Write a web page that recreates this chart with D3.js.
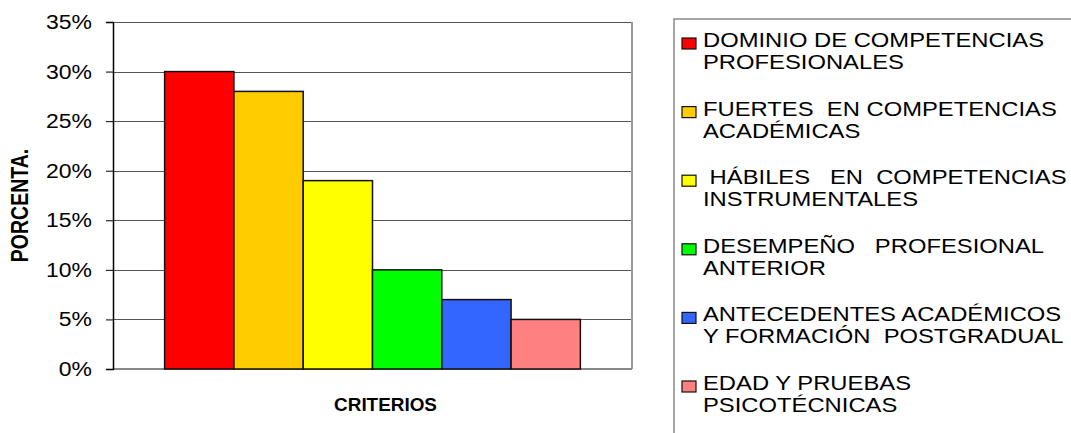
<!DOCTYPE html>
<html>
<head>
<meta charset="utf-8">
<script src="https://cdn.jsdelivr.net/npm/d3@7"></script>
<style>
  body { margin: 0; background: #fff; }
  text { font-family: "Liberation Sans", Arial, sans-serif; white-space: pre; }
</style>
</head>
<body>
<div id="chart"></div>
<script>

// data
const categories = ["Dominio", "Fuertes", "Hábiles", "Desempeño", "Antecedentes", "Edad"];
const values = [0.30, 0.28, 0.19, 0.10, 0.07, 0.05];
const colors = ["#FF0000", "#FFCC00", "#FFFF00", "#00FF00", "#3366FF", "#FF8080"];
const legendLines = [
    ["DOMINIO DE COMPETENCIAS", "PROFESIONALES"],
    ["FUERTES  EN COMPETENCIAS", "ACADÉMICAS"],
    [" HÁBILES   EN  COMPETENCIAS", "INSTRUMENTALES"],
    ["DESEMPEÑO   PROFESIONAL", "ANTERIOR"],
    ["ANTECEDENTES ACADÉMICOS", "Y FORMACIÓN  POSTGRADUAL"],
    ["EDAD Y PRUEBAS", "PSICOTÉCNICAS"]
];
const yTicks = [0, 0.05, 0.10, 0.15, 0.20, 0.25, 0.30, 0.35];
const xTitle = "CRITERIOS";
const yTitle = "PORCENTA.";

let W = 1071, H = 433;
let margin = {top: 22, right: 439, bottom: 64, left: 113};
let width = W - margin.left - margin.right;
let height = H - margin.top - margin.bottom;
let stretch = 1.2; // the original picture is widened

let svg = d3.select("#chart").append("svg")
    .attr("width", W)
    .attr("height", H);

svg.append("rect").attr("width", W).attr("height", H).attr("fill", "#fff");

let g = svg.append("g")
    .attr("transform", "translate(" + margin.left + "," + margin.top + ")");

let y = d3.scaleLinear()
    .domain([0, 0.35])
    .range([height, 0]);

let x = d3.scaleBand()
    .domain(categories)
    .range([0, width])
    .paddingInner(0)
    .paddingOuter(0.745);

// gridlines
g.selectAll(".grid")
    .data(yTicks.slice(1))
    .enter().append("line")
    .attr("x1", 0).attr("x2", width)
    .attr("y1", d => Math.round(y(d)) + 0.5)
    .attr("y2", d => Math.round(y(d)) + 0.5)
    .attr("stroke", "#555")
    .attr("stroke-width", 1);

// right + bottom border (gray)
g.append("line")
    .attr("x1", width).attr("x2", width)
    .attr("y1", 0).attr("y2", height)
    .attr("stroke", "#999").attr("stroke-width", 2);
g.append("line")
    .attr("x1", 0).attr("x2", width)
    .attr("y1", height).attr("y2", height)
    .attr("stroke", "#888").attr("stroke-width", 2);

// bars
g.selectAll(".bar")
    .data(values)
    .enter().append("rect")
    .attr("x", (d, i) => x(categories[i]))
    .attr("y", d => y(d))
    .attr("width", x.bandwidth())
    .attr("height", d => y(0) - y(d))
    .attr("fill", (d, i) => colors[i])
    .attr("stroke", "#111")
    .attr("stroke-width", 1.5);

// y axis
let yAxis = d3.axisLeft(y)
    .tickValues(yTicks)
    .tickFormat(d3.format(".0%"))
    .tickSize(7)
    .tickPadding(14);

let ya = g.append("g").attr("class", "y-axis axis").call(yAxis);
ya.select(".domain").attr("stroke", "#000").attr("stroke-width", 1.5);
ya.selectAll(".tick line").attr("stroke", "#000");
ya.selectAll(".tick text")
    .attr("font-size", "20.5px")
    .attr("fill", "#000")
    .attr("font-family", "Liberation Sans, Arial, sans-serif")
    .each(function() {
        let t = d3.select(this);
        let tx = +t.attr("x");
        t.attr("x", 0).attr("transform", "translate(" + tx + ",0) scale(1.12,1)");
    });

// axis titles
g.append("text")
    .attr("transform", "translate(" + (width / 2 + 13) + "," + (height + 42) + ") scale(1.05,1)")
    .attr("text-anchor", "middle")
    .attr("font-size", "18px")
    .attr("font-weight", "bold")
    .text(xTitle);

svg.append("text")
    .attr("transform", "translate(28," + (margin.top + height / 2 + 10) + ") scale(" + stretch + ",1) rotate(-90)")
    .attr("text-anchor", "middle")
    .attr("font-size", "19.5px")
    .attr("font-weight", "bold")
    .text(yTitle);

// legend
let legendX = 674, legendTop = 19;
svg.append("rect")
    .attr("x", legendX).attr("y", legendTop)
    .attr("width", W).attr("height", H)
    .attr("fill", "none")
    .attr("stroke", "#888")
    .attr("stroke-width", 1.5);

let ly = d3.scalePoint()
    .domain(categories)
    .range([47, 390]);

let item = svg.selectAll(".legend-item")
    .data(legendLines)
    .enter().append("g")
    .attr("transform", (d, i) => "translate(0," + ly(categories[i]) + ")");

item.append("rect")
    .attr("x", 682).attr("y", -9)
    .attr("width", 14).attr("height", 11)
    .attr("fill", (d, i) => colors[i])
    .attr("stroke", "#111")
    .attr("stroke-width", 1.2);

item.selectAll("text")
    .data(d => d)
    .enter().append("text")
    .attr("transform", (d, j) => "translate(703," + (j * 22) + ") scale(1.22,1)")
    .attr("font-size", "19.5px")
    .attr("fill", "#000")
    .text(d => d);

</script>
</body>
</html>
